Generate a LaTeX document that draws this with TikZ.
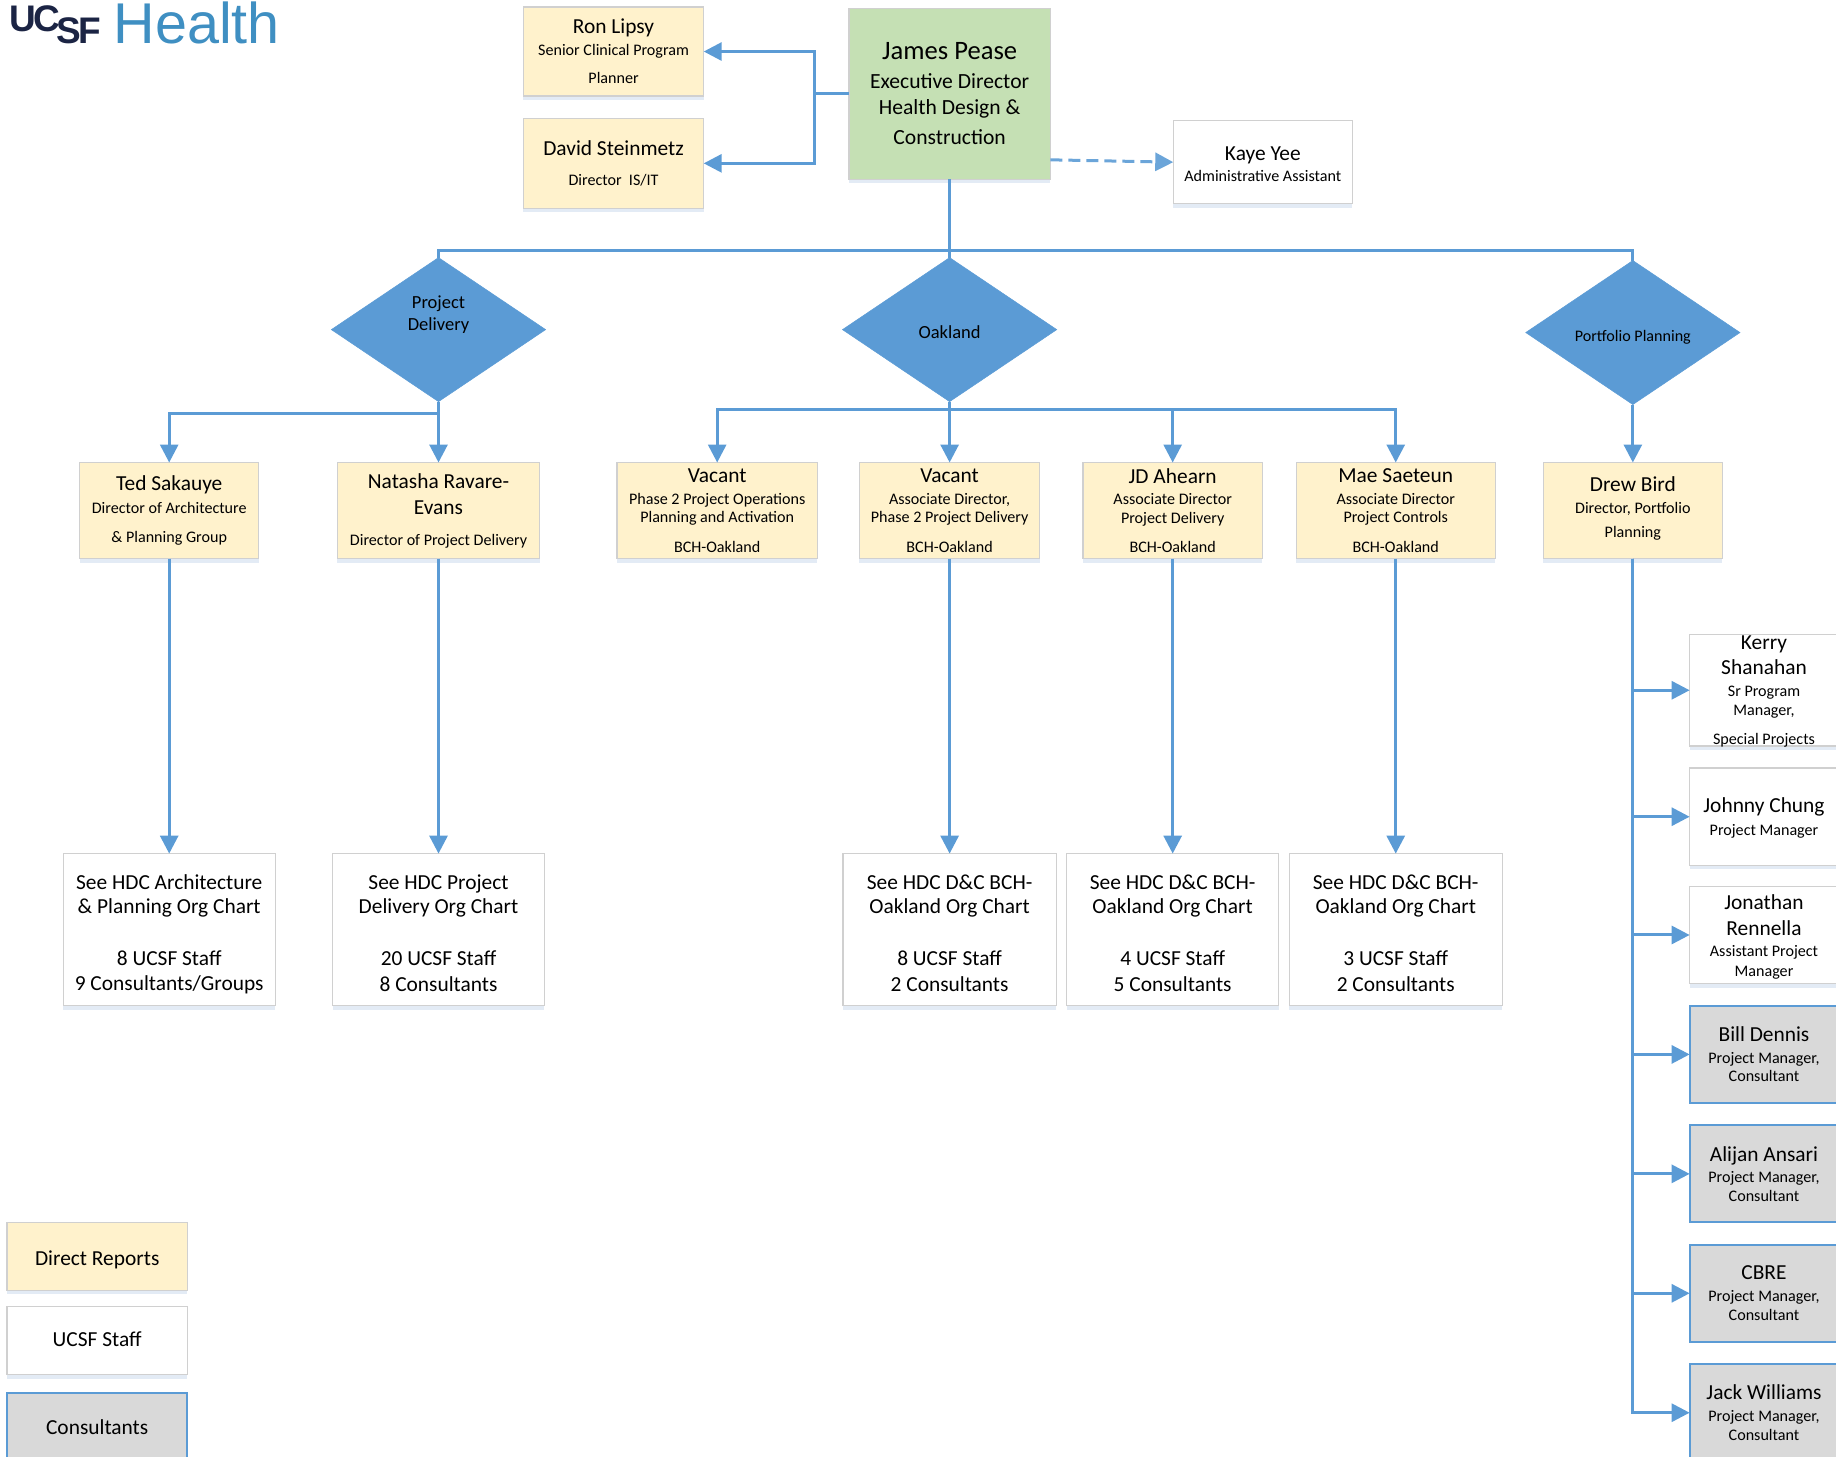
\documentclass[tikz,border=0pt]{standalone}
\usepackage{fontspec}
\setmainfont{Carlito}
\newfontfamily\logofont{Liberation Sans}
\usetikzlibrary{arrows.meta,shapes.geometric,shadows,calc}
\definecolor{lnk}{HTML}{5B9BD5}
\definecolor{yel}{HTML}{FFF2CC}
\definecolor{grn}{HTML}{C5E0B4}
\definecolor{gry}{HTML}{D9D9D9}
\definecolor{edg}{HTML}{D0D0D0}
\definecolor{shd}{HTML}{E3EBF5}
\definecolor{logoa}{HTML}{1B2444}
\definecolor{logob}{HTML}{3F8FC2}
\newdimen\pxu \pxu=1.171pt
\newcommand\brk[1]{\\[#1\pxu]}
\newcommand\tall[1]{\rule{0pt}{#1pt}}
\newcommand\nmf{\fontsize{21.4}{0}\selectfont}
\newcommand\ttf{\fontsize{16.1}{0}\selectfont}
\newcommand\bigf{\fontsize{26.6}{0}\selectfont}
\newcommand\midf{\fontsize{21.6}{0}\selectfont}
\newcommand\dmf{\fontsize{18.5}{0}\selectfont}
\newcommand\orgbox[7]{\node[#1,minimum width={(#5-#3)*1.171pt},minimum height={(#6-#4)*1.171pt}] (#2) at ({(#3+#5)/2},{(#4+#6)/2}) {#7};}
\tikzset{
  x=1.171pt,y=-1.171pt,
  every node/.style={inner sep=0pt,outer sep=0pt,align=center,text=black,font=\fontsize{15}{0}\selectfont,
    execute at begin node={\lineskiplimit=-1000pt\lineskip=0pt}},
  base/.style={draw=edg,line width=1.3pt,drop shadow={shadow xshift=0pt,shadow yshift=-4pt,fill=shd,opacity=1}},
  yelbox/.style={base,fill=yel},
  whtbox/.style={base,fill=white},
  grnbox/.style={base,fill=grn},
  conbox/.style={draw=lnk,line width=2pt,fill=gry},
  dmd/.style={diamond,fill=lnk,draw=lnk,line width=0.5pt,aspect=1.49},
  conn/.style={draw=lnk,line width=3pt},
  arr/.style={conn,-{Triangle[length=18pt,width=18pt]}},
  dasharr/.style={draw=lnk!90,line width=3pt,dash pattern=on 12pt off 6pt,-{Triangle[length=18pt,width=18pt]}},
}
\begin{document}
\begin{tikzpicture}
\useasboundingbox (0,0) rectangle (1568,1244.2);
% logo
\node[anchor=base west,font=\logofont\bfseries\fontsize{37}{0}\selectfont,text=logoa] (logouc) at (8,27) {\addfontfeature{LetterSpace=-6}UC};
\node[anchor=base west,font=\logofont\bfseries\fontsize{37}{0}\selectfont,text=logoa] (logosf) at (48,37) {\addfontfeature{LetterSpace=-6}SF};
\node[anchor=base west,font=\logofont\fontsize{57.5}{0}\selectfont,text=logob] (logoh) at (97,37) {Health};
% top
\orgbox{yelbox}{ron}{447}{6}{601}{82}{\nmf Ron Lipsy\brk{19}\ttf Senior Clinical Program\brk{24}\ttf Planner\brk{1}\ttf\mbox{}}
\orgbox{yelbox}{david}{447}{101}{601}{178}{\nmf David Steinmetz\brk{26}\ttf Director\ \ IS/IT}
\orgbox{grnbox}{james}{725}{7}{897}{153}{\bigf James Pease\brk{25}\midf Executive Director\brk{22}\midf Health Design \&\brk{26}\midf Construction}
\orgbox{whtbox}{kaye}{1002}{103}{1155}{174}{\nmf\tall{18}Kaye Yee\brk{18.5}\ttf Administrative Assistant}
% diamonds
\node[dmd,minimum width={183*1.171pt},minimum height={123*1.171pt},label={[yshift=15pt,name=pdl]center:{\dmf Project\\[22.5pt]\dmf Delivery}}] (pd) at (374.5,281.5) {};
\node[dmd,minimum width={183*1.171pt},minimum height={123*1.171pt}] (oak) at (811,281.5) {\dmf\tall{18.2}Oakland};
\node[dmd,minimum width={183*1.171pt},minimum height={123*1.171pt}] (pf) at (1394.5,284) {\fontsize{16.1}{0}\selectfont\tall{21}Portfolio Planning};
% direct reports
\orgbox{yelbox}{ted}{68}{395}{221}{477}{\nmf Ted Sakauye\brk{19}\ttf Director of Architecture\brk{25}\ttf \& Planning Group}
\orgbox{yelbox}{nat}{288}{395}{461}{477}{\nmf\tall{16}Natasha Ravare-\brk{22}\nmf Evans\brk{26.5}\ttf Director of Project Delivery}
\orgbox{yelbox}{vaca}{527}{395}{698}{477}{\nmf Vacant\brk{18.5}\ttf Phase 2 Project Operations\brk{16}\ttf Planning and Activation\brk{25}\ttf BCH-Oakland}
\orgbox{yelbox}{vacb}{734}{395}{888}{477}{\nmf Vacant\brk{18.5}\ttf Associate Director,\brk{16}\ttf Phase 2 Project Delivery\brk{25}\ttf BCH-Oakland}
\orgbox{yelbox}{jd}{925}{395}{1078}{477}{\nmf JD Ahearn\brk{18.5}\ttf Associate Director\brk{16}\ttf Project Delivery\brk{25}\ttf BCH-Oakland}
\orgbox{yelbox}{mae}{1107}{395}{1277}{477}{\nmf Mae Saeteun\brk{18.5}\ttf Associate Director\brk{16}\ttf Project Controls\brk{25}\ttf BCH-Oakland}
\orgbox{yelbox}{drew}{1318}{395}{1471}{477}{\nmf Drew Bird\brk{19}\ttf Director, Portfolio\brk{20}\ttf Planning\brk{6}\ttf\mbox{}}
% org chart boxes
\orgbox{whtbox}{cha}{54}{729}{235}{859}{\nmf\tall{24}See HDC Architecture\brk{21}\nmf \& Planning Org Chart\brk{44}\nmf 8 UCSF Staff\brk{22}\nmf 9 Consultants/Groups}
\orgbox{whtbox}{chb}{284}{729}{465}{859}{\nmf\tall{21}See HDC Project\brk{21}\nmf Delivery Org Chart\brk{44}\nmf 20 UCSF Staff\brk{22}\nmf 8 Consultants}
\orgbox{whtbox}{chc}{720}{729}{902}{859}{\nmf\tall{21}See HDC D\&C BCH-\brk{21}\nmf Oakland Org Chart\brk{44}\nmf 8 UCSF Staff\brk{22}\nmf 2 Consultants}
\orgbox{whtbox}{chd}{911}{729}{1092}{859}{\nmf\tall{21}See HDC D\&C BCH-\brk{21}\nmf Oakland Org Chart\brk{44}\nmf 4 UCSF Staff\brk{22}\nmf 5 Consultants}
\orgbox{whtbox}{che}{1101}{729}{1283}{859}{\nmf\tall{21}See HDC D\&C BCH-\brk{21}\nmf Oakland Org Chart\brk{44}\nmf 3 UCSF Staff\brk{22}\nmf 2 Consultants}
% right column
\orgbox{whtbox,inner ysep=-7pt}{kerry}{1443}{542}{1570}{637}{\nmf\tall{16}Kerry\brk{21.5}\nmf Shanahan\brk{18.5}\ttf Sr Program\brk{16}\ttf Manager,\brk{25}\ttf Special Projects}
\orgbox{whtbox}{johnny}{1443}{656}{1570}{739}{\nmf\tall{18}Johnny Chung\brk{19.5}\ttf Project Manager}
\orgbox{whtbox}{jon}{1443}{757}{1570}{840}{\nmf\tall{19}Jonathan\brk{22}\nmf Rennella\brk{18.5}\ttf Assistant Project\brk{17}\ttf Manager}
\orgbox{conbox}{bill}{1443}{859}{1570}{942}{\nmf Bill Dennis\brk{18.5}\ttf Project Manager,\brk{16}\ttf Consultant}
\orgbox{conbox}{ali}{1443}{961}{1570}{1044}{\nmf Alijan Ansari\brk{18.5}\ttf Project Manager,\brk{16}\ttf Consultant}
\orgbox{conbox}{cbre}{1443}{1063}{1570}{1146}{\nmf CBRE\brk{18.5}\ttf Project Manager,\brk{16}\ttf Consultant}
\orgbox{conbox}{jack}{1443}{1165}{1570}{1248}{\nmf Jack Williams\brk{18.5}\ttf Project Manager,\brk{16}\ttf Consultant}
% legend
\orgbox{yelbox}{lega}{6}{1044}{160}{1102}{\nmf\tall{21.5}Direct Reports}
\orgbox{whtbox}{legb}{6}{1116}{160}{1174}{\nmf UCSF Staff\brk{3}\nmf\mbox{}}
\orgbox{conbox}{legc}{6}{1190}{160}{1248}{\nmf Consultants}
% connectors
\coordinate (jleft) at (696,80);
\coordinate (jdash) at (897,136.5);
\coordinate (bus) at (811,214);
\coordinate (pdb) at (374.5,353);
\coordinate (oakb) at (811,350);
\draw[conn] (james.west) -- (jleft);
\draw[arr] (jleft) |- (ron.east);
\draw[arr] (jleft) |- (david.east);
\draw[dasharr] (jdash) -- (kaye.west);
\draw[conn] (james.south) -- (oak.north);
\draw[conn] (bus) -| (pd.north);
\draw[conn] (bus) -| (pf.north);
\draw[arr] (pd.south) -- (nat.north);
\draw[arr] (pdb) -| (ted.north);
\draw[arr] (oak.south) -- (vacb.north);
\draw[arr] (oakb) -| (vaca.north);
\draw[arr] (oakb) -| (jd.north);
\draw[arr] (oakb) -| (mae.north);
\draw[arr] (pf.south) -- (drew.north);
\draw[arr] (ted.south) -- (cha.north);
\draw[arr] (nat.south) -- (chb.north);
\draw[arr] (vacb.south) -- (chc.north);
\draw[arr] (jd.south) -- (chd.north);
\draw[arr] (mae.south) -- (che.north);
\draw[arr] (drew.south) |- (kerry.west);
\draw[arr] (drew.south) |- (johnny.west);
\draw[arr] (drew.south) |- (jon.west);
\draw[arr] (drew.south) |- (bill.west);
\draw[arr] (drew.south) |- (ali.west);
\draw[arr] (drew.south) |- (cbre.west);
\draw[arr] (drew.south) |- (jack.west);
\end{tikzpicture}
\end{document}
